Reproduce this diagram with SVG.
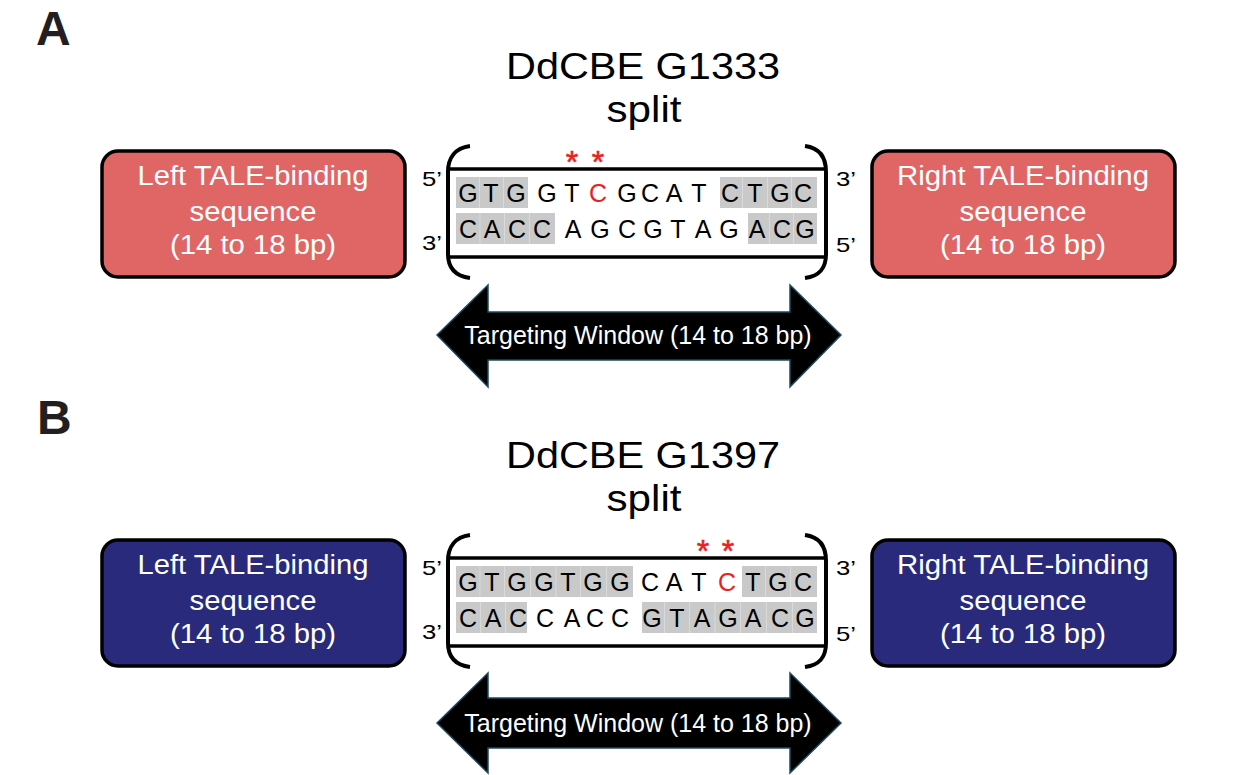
<svg xmlns="http://www.w3.org/2000/svg" width="1260" height="775" viewBox="0 0 1260 775">
<style>
  text { font-family: "Liberation Sans", Arial, sans-serif; }
  .panel { font-size: 48px; font-weight: bold; fill: #231f20; }
  .title { font-size: 36px; fill: #000; text-anchor: middle; }
  .boxtxt { font-size: 27px; fill: #fff; text-anchor: middle; }
  .red { fill: #e06666; stroke: #000; stroke-width: 3.5; }
  .blue { fill: #2a2a7c; stroke: #000; stroke-width: 3.5; }
  .end { font-size: 21px; fill: #000; }
  .nt { font-size: 25px; fill: #000; text-anchor: middle; }
  .nt .hi, .hi { fill: #e8231f; }
  .ast { font-size: 32px; fill: #e8231f; stroke: #e8231f; stroke-width: 0.6; text-anchor: middle; }
  .gray { fill: #c9c9c9; }
  .div { stroke: #dadada; stroke-width: 1; }
  .strand { stroke: #000; stroke-width: 3.5; fill: none; }
  .brk { stroke: #000; stroke-width: 4; fill: none; }
  .arrow { fill: #000; stroke: #1f4a5e; stroke-width: 1.5; }
  .arrtxt { font-size: 25px; fill: #fff; text-anchor: middle; }
</style>

<!-- Panel A -->
<g id="panelA-label"><text class="panel" x="36" y="45">A</text></g>
<g id="titleA">
  <text class="title" x="643" y="79" textLength="274" lengthAdjust="spacingAndGlyphs">DdCBE G1333</text>
  <text class="title" x="644" y="122" textLength="75" lengthAdjust="spacingAndGlyphs">split</text>
</g>
<g id="leftA">
  <rect class="red" x="102" y="151" width="303" height="126" rx="16"/>
  <text class="boxtxt" x="253" y="185" textLength="231" lengthAdjust="spacingAndGlyphs">Left TALE-binding</text>
  <text class="boxtxt" x="253" y="221" textLength="127" lengthAdjust="spacingAndGlyphs">sequence</text>
  <text class="boxtxt" x="253" y="254" textLength="166" lengthAdjust="spacingAndGlyphs">(14 to 18 bp)</text>
</g>
<g id="rightA">
  <rect class="red" x="872" y="151" width="303" height="126" rx="16"/>
  <text class="boxtxt" x="1023" y="185" textLength="252" lengthAdjust="spacingAndGlyphs">Right TALE-binding</text>
  <text class="boxtxt" x="1023" y="221" textLength="127" lengthAdjust="spacingAndGlyphs">sequence</text>
  <text class="boxtxt" x="1023" y="254" textLength="166" lengthAdjust="spacingAndGlyphs">(14 to 18 bp)</text>
</g>
<g id="seqA">
  <rect class="gray" x="456" y="177" width="72" height="31"/>
  <rect class="gray" x="720" y="177" width="97" height="31"/>
  <rect class="gray" x="456" y="213" width="99" height="31"/>
  <rect class="gray" x="748" y="213" width="69" height="31"/>
  <g class="div">
    <line x1="479.5" y1="177" x2="479.5" y2="208"/><line x1="503.5" y1="177" x2="503.5" y2="208"/>
    <line x1="742.5" y1="177" x2="742.5" y2="208"/><line x1="767.5" y1="177" x2="767.5" y2="208"/><line x1="791.5" y1="177" x2="791.5" y2="208"/>
    <line x1="480" y1="213" x2="480" y2="244"/><line x1="504.5" y1="213" x2="504.5" y2="244"/><line x1="529.5" y1="213" x2="529.5" y2="244"/>
    <line x1="769.5" y1="213" x2="769.5" y2="244"/><line x1="793.5" y1="213" x2="793.5" y2="244"/>
  </g>
  <line class="strand" x1="448" y1="169" x2="826" y2="169"/>
  <line class="strand" x1="448" y1="257" x2="826" y2="257"/>
  <path class="brk" d="M470,146 C455,148 448,158 448,172 L448,254 C448,268 455,276 470,278"/>
  <path class="brk" d="M805,146 C820,148 826,158 826,172 L826,254 C826,268 820,276 805,278"/>
  <text class="ast" x="572" y="173">*</text>
  <text class="ast" x="598" y="173">*</text>
  <text class="end" x="422" y="186" textLength="20" lengthAdjust="spacingAndGlyphs">5’</text>
  <text class="end" x="422" y="250" textLength="20" lengthAdjust="spacingAndGlyphs">3’</text>
  <text class="end" x="836" y="186" textLength="20" lengthAdjust="spacingAndGlyphs">3’</text>
  <text class="end" x="836" y="252" textLength="20" lengthAdjust="spacingAndGlyphs">5’</text>
  <g class="nt">
    <text x="468" y="201.5">G</text><text x="491" y="201.5">T</text><text x="516" y="201.5">G</text><text x="547" y="201.5">G</text><text x="572" y="201.5">T</text><text class="hi" x="598" y="201.5">C</text><text x="627" y="201.5">G</text><text x="650" y="201.5">C</text><text x="674" y="201.5">A</text><text x="699" y="201.5">T</text><text x="730" y="201.5">C</text><text x="755" y="201.5">T</text><text x="780" y="201.5">G</text><text x="803" y="201.5">C</text>
    <text x="468" y="237.5">C</text><text x="492" y="237.5">A</text><text x="517" y="237.5">C</text><text x="542" y="237.5">C</text><text x="573" y="237.5">A</text><text x="600" y="237.5">G</text><text x="627" y="237.5">C</text><text x="653" y="237.5">G</text><text x="678" y="237.5">T</text><text x="703" y="237.5">A</text><text x="729" y="237.5">G</text><text x="757" y="237.5">A</text><text x="782" y="237.5">C</text><text x="805" y="237.5">G</text>
  </g>
</g>
<g id="windowA">
  <path class="arrow" d="M437,335 L488,285 L488,312 L790,312 L790,285 L841,335 L790,387 L790,360 L488,360 L488,387 Z"/>
  <text class="arrtxt" x="638" y="344">Targeting Window (14 to 18 bp)</text>
</g>

<!-- Panel B -->
<g id="panelB-label"><text class="panel" x="37" y="434">B</text></g>
<g id="titleB">
  <text class="title" x="643" y="468" textLength="274" lengthAdjust="spacingAndGlyphs">DdCBE G1397</text>
  <text class="title" x="644" y="511" textLength="75" lengthAdjust="spacingAndGlyphs">split</text>
</g>
<g id="leftB">
  <rect class="blue" x="102" y="540" width="303" height="126" rx="16"/>
  <text class="boxtxt" x="253" y="574" textLength="231" lengthAdjust="spacingAndGlyphs">Left TALE-binding</text>
  <text class="boxtxt" x="253" y="610" textLength="127" lengthAdjust="spacingAndGlyphs">sequence</text>
  <text class="boxtxt" x="253" y="643" textLength="166" lengthAdjust="spacingAndGlyphs">(14 to 18 bp)</text>
</g>
<g id="rightB">
  <rect class="blue" x="872" y="540" width="303" height="126" rx="16"/>
  <text class="boxtxt" x="1023" y="574" textLength="252" lengthAdjust="spacingAndGlyphs">Right TALE-binding</text>
  <text class="boxtxt" x="1023" y="610" textLength="127" lengthAdjust="spacingAndGlyphs">sequence</text>
  <text class="boxtxt" x="1023" y="643" textLength="166" lengthAdjust="spacingAndGlyphs">(14 to 18 bp)</text>
</g>
<g id="seqB">
  <rect class="gray" x="456" y="566" width="177" height="31"/>
  <rect class="gray" x="742" y="566" width="75" height="31"/>
  <rect class="gray" x="456" y="602" width="71" height="31"/>
  <rect class="gray" x="642" y="602" width="175" height="31"/>
  <g class="div">
    <line x1="480" y1="566" x2="480" y2="597"/><line x1="504.5" y1="566" x2="504.5" y2="597"/><line x1="530.5" y1="566" x2="530.5" y2="597"/><line x1="556" y1="566" x2="556" y2="597"/><line x1="580.5" y1="566" x2="580.5" y2="597"/><line x1="606.5" y1="566" x2="606.5" y2="597"/>
    <line x1="765.5" y1="566" x2="765.5" y2="597"/><line x1="790.5" y1="566" x2="790.5" y2="597"/>
    <line x1="480.5" y1="602" x2="480.5" y2="633"/><line x1="505.5" y1="602" x2="505.5" y2="633"/>
    <line x1="664.5" y1="602" x2="664.5" y2="633"/><line x1="689.5" y1="602" x2="689.5" y2="633"/><line x1="715" y1="602" x2="715" y2="633"/><line x1="740.5" y1="602" x2="740.5" y2="633"/><line x1="766.5" y1="602" x2="766.5" y2="633"/><line x1="792.5" y1="602" x2="792.5" y2="633"/>
  </g>
  <line class="strand" x1="448" y1="558" x2="826" y2="558"/>
  <line class="strand" x1="448" y1="646" x2="826" y2="646"/>
  <path class="brk" d="M470,535 C455,537 448,547 448,561 L448,643 C448,657 455,665 470,667"/>
  <path class="brk" d="M805,535 C820,537 826,547 826,561 L826,643 C826,657 820,665 805,667"/>
  <text class="ast" x="703" y="562">*</text>
  <text class="ast" x="728" y="562">*</text>
  <text class="end" x="422" y="575" textLength="20" lengthAdjust="spacingAndGlyphs">5’</text>
  <text class="end" x="422" y="639" textLength="20" lengthAdjust="spacingAndGlyphs">3’</text>
  <text class="end" x="836" y="575" textLength="20" lengthAdjust="spacingAndGlyphs">3’</text>
  <text class="end" x="836" y="641" textLength="20" lengthAdjust="spacingAndGlyphs">5’</text>
  <g class="nt">
    <text x="468" y="590.5">G</text><text x="492" y="590.5">T</text><text x="517" y="590.5">G</text><text x="544" y="590.5">G</text><text x="568" y="590.5">T</text><text x="593" y="590.5">G</text><text x="620" y="590.5">G</text><text x="650" y="590.5">C</text><text x="674" y="590.5">A</text><text x="699" y="590.5">T</text><text class="hi" x="727" y="590.5">C</text><text x="753" y="590.5">T</text><text x="778" y="590.5">G</text><text x="803" y="590.5">C</text>
    <text x="468" y="626.5">C</text><text x="493" y="626.5">A</text><text x="518" y="626.5">C</text><text x="545" y="626.5">C</text><text x="572" y="626.5">A</text><text x="595" y="626.5">C</text><text x="620" y="626.5">C</text><text x="652" y="626.5">G</text><text x="677" y="626.5">T</text><text x="702" y="626.5">A</text><text x="728" y="626.5">G</text><text x="753" y="626.5">A</text><text x="780" y="626.5">C</text><text x="805" y="626.5">G</text>
  </g>
</g>
<g id="windowB">
  <path class="arrow" d="M437,723 L488,673 L488,698 L790,698 L790,673 L841,723 L790,773 L790,748 L488,748 L488,773 Z"/>
  <text class="arrtxt" x="638" y="732">Targeting Window (14 to 18 bp)</text>
</g>
<g id="connectors"></g>
</svg>
